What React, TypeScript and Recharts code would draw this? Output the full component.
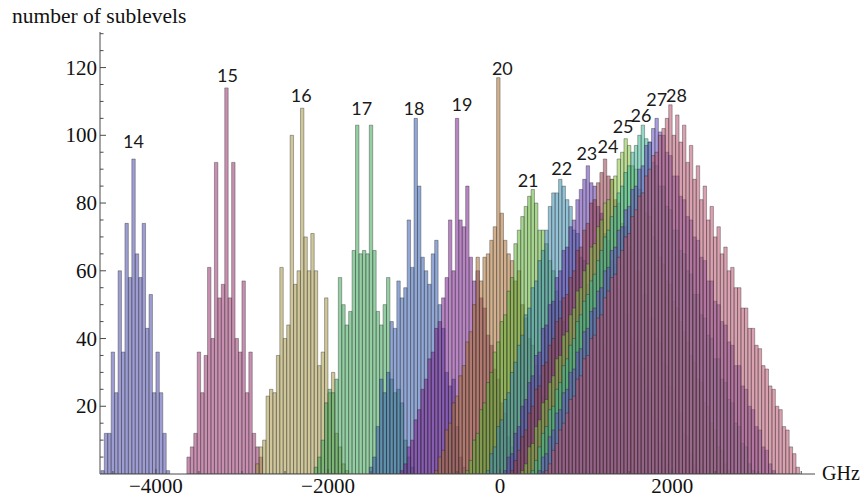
import React from 'react';
import { ComposedChart, Bar, XAxis, YAxis, ReferenceDot } from 'recharts';

// histogram bin width in GHz; bin n covers [n * BIN, (n + 1) * BIN)
const BIN = 40;

const levels = [14, 15, 16, 17, 18, 19, 20, 21, 22, 23, 24, 25, 26, 27, 28];

// index of the first occupied bin of each histogram
const firstBin = [-116, -91, -71, -54, -38, -29, -19, -10, -4, 1, 3, 6, 9, 11, 13];

const counts14 = [1, 12, 12, 36, 24, 60, 36, 74, 58, 93, 65, 58, 74, 43, 53, 24, 36, 24, 12, 1];
const counts15 = [5, 8, 12, 36, 24, 35, 61, 40, 92, 52, 56, 114, 52, 92, 40, 36, 57, 24, 36, 12, 8, 5];
const counts16 = [3, 8, 10, 23, 25, 24, 35, 61, 40, 44, 100, 56, 60, 108, 70, 60, 71, 60, 32, 36, 52, 24, 30, 12, 8, 3, 1];
const counts17 = [2, 5, 10, 21, 25, 24, 28, 58, 50, 44, 48, 66, 103, 65, 66, 65, 103, 66, 48, 44, 50, 58, 28, 24, 25, 21, 10, 5, 2];
const counts18 = [2, 5, 14, 28, 24, 30, 45, 43, 57, 52, 55, 75, 61, 105, 85, 64, 60, 56, 65, 69, 50, 43, 30, 26, 28, 14, 5, 2];
const counts19 = [1, 3, 8, 10, 16, 19, 25, 28, 34, 36, 43, 45, 52, 58, 75, 60, 105, 75, 73, 85, 64, 57, 60, 52, 49, 41, 38, 31, 28, 21, 18, 11, 8, 4, 1];
const counts20 = [1, 5, 7, 13, 15, 21, 23, 29, 32, 39, 42, 50, 64, 57, 64, 65, 69, 73, 117, 77, 69, 65, 63, 57, 60, 50, 46, 40, 38, 32, 29, 23, 21, 15, 13, 7, 5, 1];
const counts21 = [1, 4, 10, 12, 19, 21, 27, 30, 36, 39, 45, 47, 54, 58, 68, 72, 76, 79, 82, 84, 80, 72, 72, 68, 63, 60, 54, 51, 45, 42, 36, 33, 27, 24, 18, 15, 9, 6, 2];
const counts22 = [1, 6, 8, 14, 16, 22, 24, 30, 33, 38, 41, 47, 49, 55, 57, 63, 66, 72, 79, 83, 83, 87,
  85, 81, 79, 72, 71, 64, 63, 56, 55, 48, 46, 40, 38, 31, 30, 23, 21, 14, 12, 6, 3];
const counts23 = [1, 5, 6, 12, 14, 20, 22, 27, 29, 35, 36, 43, 44, 50, 51, 58, 60, 66, 67, 73, 75, 81, 84, 87, 91,
  86, 85, 79, 77, 71, 69, 63, 62, 55, 54, 47, 47, 40, 39, 32, 31, 25, 24, 17, 16, 9, 9, 3, 1];
const counts24 = [1, 4, 7, 11, 13, 18, 20, 25, 26, 32, 33, 38, 40, 45, 46, 52, 53, 58, 60, 66, 67, 72, 74, 80, 81, 86, 89, 93,
  88, 87, 81, 80, 74, 73, 67, 66, 60, 60, 53, 53, 46, 46, 40, 39, 33, 32, 26, 25, 19, 18, 12, 11, 6, 3, 1];
const counts25 = [1, 3, 8, 9, 14, 16, 21, 22, 27, 29, 34, 35, 41, 42, 47, 49, 54, 55, 60, 62, 67, 68, 73, 75, 80, 81, 87, 88, 93, 95, 99,
  97, 91, 90, 84, 83, 77, 76, 70, 69, 64, 62, 57, 56, 51, 49, 45, 42, 39, 35, 33, 28, 27, 21, 20, 15, 13, 8, 7, 3, 1];
const counts26 = [1, 4, 8, 12, 14, 19, 20, 25, 27, 32, 34, 38, 40, 45, 47, 51, 53, 57, 59, 63, 66, 70, 72, 76, 79, 83, 85, 89, 91, 95, 97, 100, 103,
  99, 98, 92, 91, 85, 85, 79, 78, 72, 72, 66, 65, 60, 59, 53, 53, 47, 46, 41, 40, 34, 34, 28, 27, 22, 21, 15, 14, 9, 8, 3, 1];
const counts27 = [1, 5, 6, 11, 13, 18, 19, 24, 25, 30, 31, 36, 37, 42, 43, 48, 49, 54, 55, 60, 61, 66, 67, 72, 73, 78, 79, 84, 85, 90, 91, 97, 98, 102, 105,
  101, 100, 95, 94, 88, 88, 82, 81, 76, 75, 70, 69, 64, 63, 57, 57, 51, 50, 45, 44, 39, 38, 32, 32, 26, 25, 20, 19, 14, 13, 8, 7, 3, 1];
const counts28 = [1, 3, 7, 9, 13, 15, 18, 22, 23, 28, 29, 34, 35, 40, 41, 46, 47, 52, 54, 58, 59, 64, 66, 70, 71, 76, 78, 82, 83, 88, 90, 94, 95, 100, 102, 105, 109,
  100, 106, 98, 103, 92, 97, 87, 91, 81, 85, 75, 79, 70, 73, 65, 67, 60, 61, 55, 55, 49, 49, 43, 43, 38, 37, 32, 31, 26, 25, 20, 19, 14, 13, 8, 6, 2];

const counts = [counts14, counts15, counts16, counts17, counts18, counts19, counts20, counts21,
  counts22, counts23, counts24, counts25, counts26, counts27, counts28];

// Mathematica-like palette, drawn semi-transparent so overlaps blend
const colors = ['#4d4daf', '#9b336f', '#a89947', '#3ba858', '#375fb4', '#7e2194', '#ad6f32', '#5fb432',
  '#3b90b4', '#6135b1', '#9d3e4c', '#87c53c', '#3bba96', '#634fc7', '#bb5470'];

const xTicks = [-4500, -4000, -3500, -3000, -2500, -2000, -1500, -1000, -500, 0, 500, 1000, 1500, 2000, 2500, 3000, 3500];
const xMajor = [-4000, -2000, 0, 2000];
const yTicks = [5, 10, 15, 20, 25, 30, 35, 40, 45, 50, 55, 60, 65, 70, 75, 80, 85, 90, 95, 100, 105, 110, 115, 120, 125, 130];
const yMajor = [20, 40, 60, 80, 100, 120];

// label offsets (px) from the top of each histogram's tallest bar: [dx, lift]
const labelShift: Record<number, [number, number]> = {
  14: [0, 11], 15: [1, 6], 16: [-1, 6], 17: [4.5, 10], 18: [-1.7, 3.5], 19: [5, 7], 20: [4, 3],
  21: [-4.7, 2], 22: [1.5, 4], 23: [-1, 6], 24: [3, 6], 25: [-2.6, 5.5], 26: [-2, 3], 27: [0, 12.5], 28: [6, 3],
};

const serif = '"Liberation Serif", "DejaVu Serif", serif';
const axisColor = '#4a4a4a';

// one row per bin, one column per J
const lastBin = Math.max(...firstBin.map((s, i) => s + counts[i].length - 1));
const minBin = Math.min(...firstBin);
const rows: Record<string, number | null>[] = [];
for (let b = minBin; b <= lastBin; b++) {
  const row: Record<string, number | null> = { x: b * BIN + BIN / 2 };
  levels.forEach((J, i) => {
    const k = b - firstBin[i];
    row['J' + J] = k >= 0 && k < counts[i].length ? counts[i][k] : null;
  });
  rows.push(row);
}

const peaks = levels.map((J, i) => {
  const c = counts[i];
  let k = 0;
  c.forEach((v, j) => {
    if (v > c[k]) k = j;
  });
  return { J, x: (firstBin[i] + k) * BIN + BIN / 2, y: c[k] };
});

const fmt = (v: number) => (v < 0 ? '\u2212' + Math.abs(v) : String(v));

const XTick = (props: any) => {
  const { x, y, payload } = props;
  const major = xMajor.includes(payload.value);
  return (
    <g>
      <line x1={x} x2={x} y1={y} y2={y - (major ? 5 : 3)} stroke={axisColor} strokeWidth={1} />
      {major && (
        <text x={x} y={y + 19} textAnchor="middle" fontFamily={serif} fontSize={21} fill="#111">
          {fmt(payload.value)}
        </text>
      )}
    </g>
  );
};

const YTick = (props: any) => {
  const { x, y, payload } = props;
  const major = yMajor.includes(payload.value);
  return (
    <g>
      <line x1={x} x2={x + (major ? 6 : 3.5)} y1={y} y2={y} stroke={axisColor} strokeWidth={1} />
      {major && (
        <text x={x - 3} y={y + 7} textAnchor="end" fontFamily={serif} fontSize={21} fill="#111">
          {payload.value}
        </text>
      )}
    </g>
  );
};

export default function App() {
  return (
    <div style={{ position: 'absolute', left: 0, top: 0, width: 864, height: 500, background: '#fff' }}>
      <ComposedChart
        width={864}
        height={500}
        data={rows}
        margin={{ top: 32, right: 49, bottom: 0, left: 40 }}
        barGap={-3.4}
        barSize={3.4}
      >
        {levels.map((J, i) => (
          <Bar
            key={J}
            dataKey={'J' + J}
            barSize={3.4}
            fill={colors[i]}
            fillOpacity={0.55}
            stroke="#2a2a2a"
            strokeOpacity={0.55}
            strokeWidth={0.7}
            isAnimationActive={false}
          />
        ))}
        <XAxis
          dataKey="x"
          type="number"
          domain={[-4650, 3660]}
          allowDataOverflow
          ticks={xTicks}
          interval={0}
          tickSize={0}
          tickMargin={0}
          tickLine={false}
          height={26}
          stroke={axisColor}
          tick={<XTick />}
          label={{
            content: (p: any) => (
              <text x={p.viewBox.x + p.viewBox.width + 7} y={p.viewBox.y + 6} fontFamily={serif} fontSize={20} fill="#111">
                GHz
              </text>
            ),
          }}
        />
        <YAxis
          type="number"
          domain={[0, 130.5]}
          allowDataOverflow
          ticks={yTicks}
          interval={0}
          tickSize={0}
          tickMargin={0}
          tickLine={false}
          width={60}
          stroke={axisColor}
          tick={<YTick />}
          label={{
            content: (p: any) => (
              <text x={12} y={p.viewBox.y - 9} fontFamily={serif} fontSize={21.5} fill="#111">
                number of sublevels
              </text>
            ),
          }}
        />
        {peaks.map((p) => (
          <ReferenceDot
            key={p.J}
            x={p.x}
            y={p.y}
            r={0}
            fill="none"
            stroke="none"
            label={{
              content: (lp: any) => (
                <text
                  x={lp.viewBox.x + labelShift[p.J][0]}
                  y={lp.viewBox.y - labelShift[p.J][1]}
                  textAnchor="middle"
                  fontFamily="Lato, 'Open Sans', sans-serif"
                  fontSize={18}
                  fill="#1a1a1a"
                >
                  {p.J}
                </text>
              ),
            }}
          />
        ))}
      </ComposedChart>
    </div>
  );
}
